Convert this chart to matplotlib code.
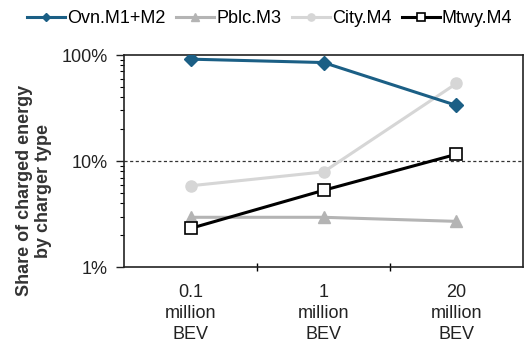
import matplotlib
matplotlib.use("Agg")
import matplotlib.pyplot as plt
from matplotlib.ticker import FixedLocator, LogLocator, NullFormatter

plt.rcParams['font.family'] = ['Liberation Sans', 'DejaVu Sans']

categories = ["0.1\nmillion\nBEV", "1\nmillion\nBEV", "20\nmillion\nBEV"]
ovn = [91.5, 85.0, 33.5]
pblc = [2.95, 2.95, 2.7]
city = [5.85, 7.9, 54.0]
mtwy = [2.32, 5.3, 11.6]
series_names = ["Ovn.M1+M2", "Pblc.M3", "City.M4", "Mtwy.M4"]
ytick_vals = [1, 10, 100]
ytick_labels = ["1%", "10%", "100%"]

fig = plt.figure(figsize=(5.24, 3.42), dpi=100)
ax = fig.add_axes([0.237, 0.219, 0.761, 0.620])
x = list(range(len(categories)))

h1, = ax.plot(x, ovn, color='#1b5f85', lw=2.2, marker='D', ms=7, label=series_names[0], zorder=4)
h2, = ax.plot(x, pblc, color='#b4b4b4', lw=2.2, marker='^', ms=8, label=series_names[1], zorder=3)
h3, = ax.plot(x, city, color='#d6d6d6', lw=2.2, marker='o', ms=8, label=series_names[2], zorder=3)
h4, = ax.plot(x, mtwy, color='black', lw=2.2, marker='s', ms=9, mfc='white', mec='black', mew=1.2,
              label=series_names[3], zorder=5)

ax.axhline(10, color='#333333', lw=0.9, ls=(0, (2.5, 2)), zorder=1)

ax.set_yscale('log')
ax.set_ylim(1, 100)
ax.yaxis.set_major_locator(FixedLocator(ytick_vals))
ax.set_yticklabels(ytick_labels)
ax.yaxis.set_minor_locator(LogLocator(base=10, subs=range(2, 10)))
ax.yaxis.set_minor_formatter(NullFormatter())
ax.tick_params(axis='y', which='major', length=6, width=1, labelsize=13, pad=6, colors='#222222')
ax.tick_params(axis='y', which='minor', length=3, width=0.8)

ax.set_xlim(-0.5, 2.5)
ax.set_xticks([0.5, 1.5])
ax.set_xticklabels([])
ax.set_xticks(x, minor=True)
ax.set_xticklabels(categories, minor=True, linespacing=1.3)
ax.tick_params(axis='x', which='major', length=6, width=1, direction='inout')
ax.tick_params(axis='x', which='minor', length=0, labelsize=13, pad=12, colors='#222222')

for s in ax.spines.values():
    s.set_linewidth(1.2)
    s.set_color('#222222')

ax.set_ylabel("Share of charged energy\nby charger type", fontsize=13, fontweight='bold',
              color='#333333', linespacing=1.2)
ax.yaxis.set_label_coords(-0.18, 0.36)

fig.legend(handles=[h1, h2, h3, h4], loc='center', bbox_to_anchor=(0.515, 0.946), ncol=4,
           frameon=False, fontsize=13, handlelength=2.1, handletextpad=0.1, columnspacing=0.6,
           markerscale=0.65, borderpad=0.1, borderaxespad=0)

fig.savefig("out.png", dpi=100)
